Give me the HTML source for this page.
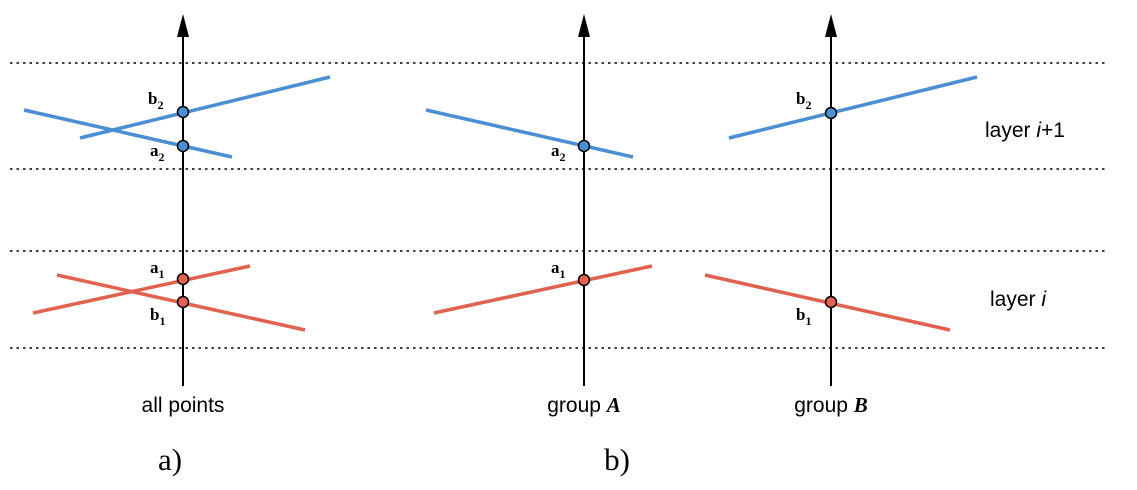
<!DOCTYPE html>
<html><head><meta charset="utf-8"><style>
html,body{margin:0;padding:0;background:#fff;}
svg{display:block;}
text{font-family:"Liberation Sans",sans-serif;fill:#000;}
.serif{font-family:"Liberation Serif",serif;}
</style></head><body>
<svg width="1137" height="490" viewBox="0 0 1137 490">
<g stroke="#000" stroke-width="1.6" stroke-dasharray="2.5,4">
<line x1="10" y1="63" x2="1108" y2="63"/><line x1="10" y1="169" x2="1108" y2="169"/>
<line x1="10" y1="251" x2="1108" y2="251"/><line x1="10" y1="348" x2="1108" y2="348"/>
</g>
<g stroke="#000" stroke-width="2">
<line x1="183" y1="386" x2="183" y2="30"/>
<line x1="584" y1="386" x2="584" y2="30"/>
<line x1="831" y1="386" x2="831" y2="30"/>
</g>
<g fill="#000">
<polygon points="183,14 177,37 189,37"/>
<polygon points="584,14 578,37 590,37"/>
<polygon points="831,14 825,37 837,37"/>
</g>
<g stroke-width="3.5">
<line x1="24" y1="110" x2="232" y2="157" stroke="#4a8fd3"/>
<line x1="80" y1="138" x2="330" y2="77" stroke="#4a8fd3"/>
<line x1="57" y1="275" x2="305" y2="330" stroke="#e0624f"/>
<line x1="33" y1="313" x2="250" y2="266" stroke="#e0624f"/>
<line x1="426" y1="110" x2="633" y2="157" stroke="#4a8fd3"/>
<line x1="434" y1="313" x2="652" y2="266" stroke="#e0624f"/>
<line x1="729" y1="138" x2="977" y2="77" stroke="#4a8fd3"/>
<line x1="705" y1="275" x2="950" y2="330" stroke="#e0624f"/>
</g>
<g stroke="#000" stroke-width="1.5">
<circle cx="183" cy="112" r="5.5" fill="#4a8fd3"/><circle cx="183" cy="146" r="5.5" fill="#4a8fd3"/>
<circle cx="183" cy="279" r="5.5" fill="#e0624f"/><circle cx="183" cy="302" r="5.5" fill="#e0624f"/>
<circle cx="584" cy="146" r="5.5" fill="#4a8fd3"/><circle cx="584" cy="280" r="5.5" fill="#e0624f"/>
<circle cx="831" cy="113" r="5.5" fill="#4a8fd3"/><circle cx="831" cy="302" r="5.5" fill="#e0624f"/>
</g>
<g class="serif" font-weight="bold" font-size="17">
<text x="148" y="104" class="serif">b<tspan font-size="12" dy="5">2</tspan></text>
<text x="150" y="156" class="serif">a<tspan font-size="12" dy="5">2</tspan></text>
<text x="150" y="273" class="serif">a<tspan font-size="12" dy="5">1</tspan></text>
<text x="150" y="320" class="serif">b<tspan font-size="12" dy="5">1</tspan></text>
<text x="551" y="156" class="serif">a<tspan font-size="12" dy="5">2</tspan></text>
<text x="551" y="273" class="serif">a<tspan font-size="12" dy="5">1</tspan></text>
<text x="796" y="104" class="serif">b<tspan font-size="12" dy="5">2</tspan></text>
<text x="796" y="320" class="serif">b<tspan font-size="12" dy="5">1</tspan></text>
</g>
<text x="183" y="412" font-size="21" text-anchor="middle">all points</text>
<text x="584" y="412" font-size="21" text-anchor="middle">group <tspan class="serif" font-weight="bold" font-style="italic">A</tspan></text>
<text x="831" y="412" font-size="21" text-anchor="middle">group <tspan class="serif" font-weight="bold" font-style="italic">B</tspan></text>
<text x="985" y="137" font-size="21">layer <tspan font-style="italic">i</tspan>+1</text>
<text x="990" y="306" font-size="21">layer <tspan font-style="italic">i</tspan></text>
<text x="170" y="470" font-size="31" text-anchor="middle" class="serif">a)</text>
<text x="617" y="470" font-size="31" text-anchor="middle" class="serif">b)</text>
</svg>
</body></html>
